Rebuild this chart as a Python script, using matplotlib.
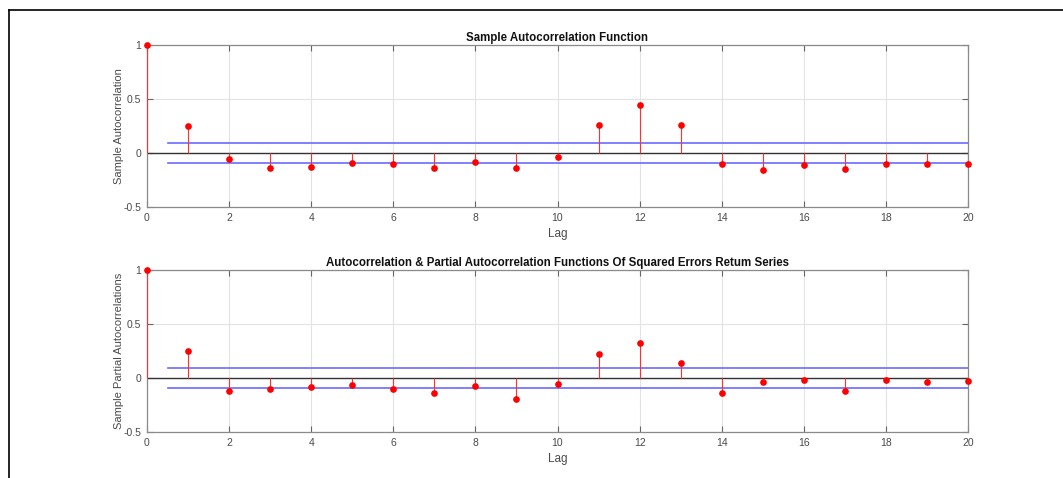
import matplotlib
matplotlib.use("Agg")
import matplotlib.pyplot as plt
import numpy as np

lags = list(range(0, 21))
acf_values = [1.0, 0.246, -0.056, -0.139, -0.133, -0.093, -0.099, -0.139, -0.080, -0.139, -0.037,
              0.262, 0.448, 0.262, -0.099, -0.157, -0.108, -0.145, -0.102, -0.105, -0.099]
pacf_values = [1.0, 0.247, -0.123, -0.102, -0.083, -0.065, -0.099, -0.142, -0.071, -0.194, -0.052,
               0.222, 0.327, 0.136, -0.136, -0.037, -0.022, -0.117, -0.019, -0.037, -0.028]
conf_bound = 0.096
bound_x = [0.5, 20]
titles = ["Sample Autocorrelation Function",
          "Autocorrelation & Partial Autocorrelation Functions Of Squared Errors Retum Series"]
ylabels = ["Sample Autocorrelation", "Sample Partial Autocorrelations"]
xticks = list(range(0, 21, 2))
yticks = [-0.5, 0, 0.5, 1]
ytick_labels = ["-0.5", "0", "0.5", "1"]

plt.rcParams['font.family'] = ['Liberation Sans', 'DejaVu Sans']

fig = plt.figure(figsize=(10.63, 4.78), dpi=100)
W, H = 1063, 478

# outer frame lines (top and left)
fig.add_artist(plt.Line2D([9 / W, 1.0], [1 - 10 / H, 1 - 10 / H], color='black', lw=1.2))
fig.add_artist(plt.Line2D([9 / W, 9 / W], [0, 1 - 10 / H], color='black', lw=1.2))

positions = [
    [147 / W, 1 - 207 / H, (968 - 147) / W, (207 - 45) / H],
    [147 / W, 1 - 432 / H, (968 - 147) / W, (432 - 270) / H],
]
series = [acf_values, pacf_values]
tick_color = '#4a4a4a'
for pos, vals, title, ylab in zip(positions, series, titles, ylabels):
    ax = fig.add_axes(pos)
    ax.set_xlim(0, 20)
    ax.set_ylim(-0.5, 1)
    ax.grid(True, color='#e3e3e3', lw=0.8)
    ax.set_axisbelow(True)
    ax.axhline(0, color='#333333', lw=1.0, zorder=2)
    ax.plot(bound_x, [conf_bound, conf_bound], color='#6b6bff', lw=1.2, zorder=3)
    ax.plot(bound_x, [-conf_bound, -conf_bound], color='#6b6bff', lw=1.2, zorder=3)
    ax.vlines(lags, 0, vals, color='#ff3030', lw=0.8, zorder=4)
    ax.plot(lags, vals, 'o', color='#ff0000', markersize=3.8, zorder=5, clip_on=False)
    ax.set_xticks(xticks)
    ax.set_yticks(yticks)
    ax.set_yticklabels(ytick_labels)
    ax.tick_params(direction='in', top=True, right=True, length=4, width=0.8,
                   colors='#666666', labelcolor=tick_color, labelsize=7.5, pad=4)
    for sp in ax.spines.values():
        sp.set_color('#8a8a8a')
        sp.set_linewidth(0.9)
    ax.set_title(title, fontsize=8.3, fontweight='bold', pad=3, color='#111111')
    ax.set_xlabel('Lag', fontsize=8.5, color=tick_color, labelpad=4)
    ax.set_ylabel(ylab, fontsize=8, color=tick_color, labelpad=0)

fig.savefig('out.png', dpi=100)
